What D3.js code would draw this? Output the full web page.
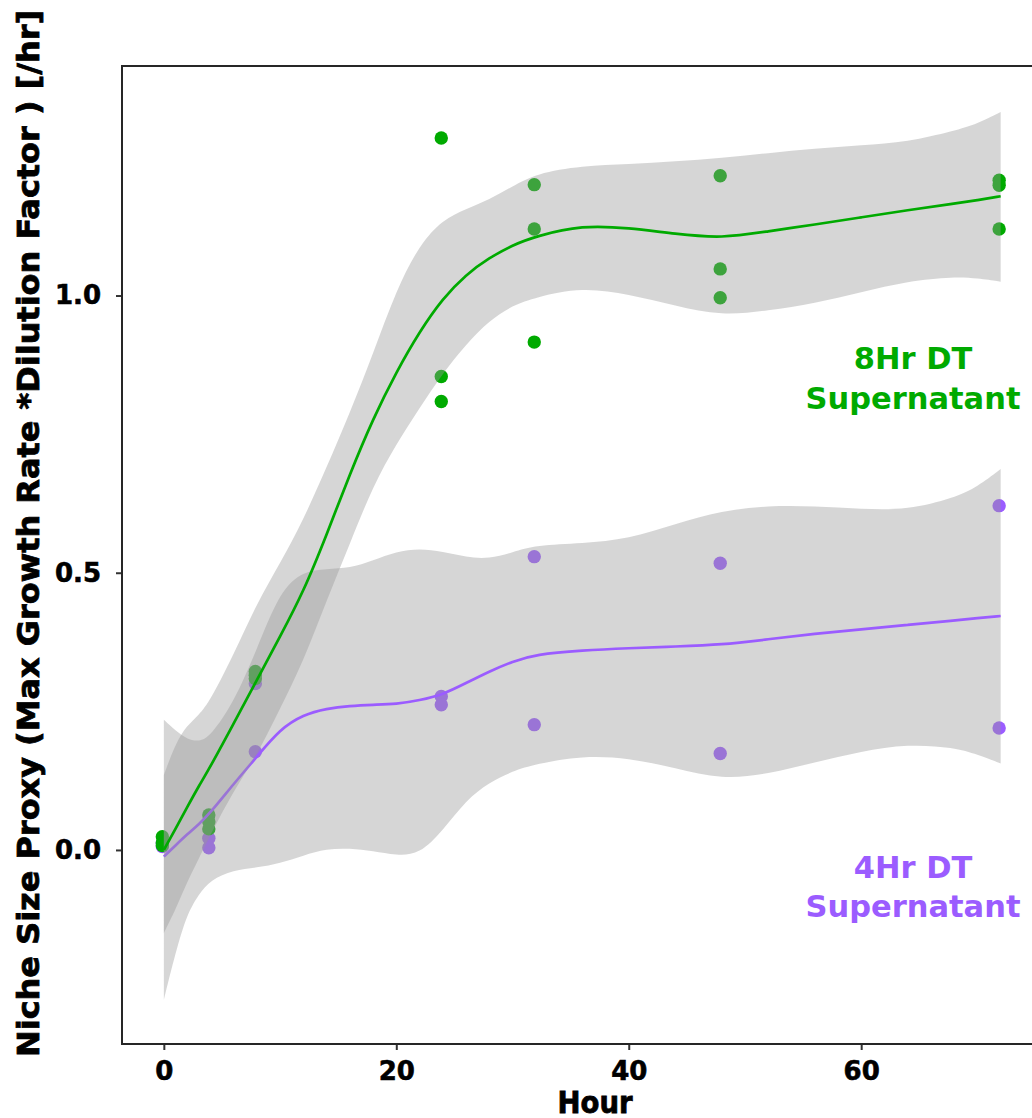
<!DOCTYPE html>
<html>
<head>
<meta charset="utf-8">
<script src="https://cdn.jsdelivr.net/npm/d3@7"></script>
<style>
  html, body { margin: 0; padding: 0; background: #ffffff; }
  svg { display: block; }
  text { font-family: "DejaVu Sans", Verdana, sans-serif; font-weight: bold; }
</style>
</head>
<body>
<svg id="chart" width="1032" height="1118"></svg>
<script>
// ---- Observed replicate values (hour, growth-rate proxy) ----
const hours8 = [0, 0, 0, 4, 4, 4, 8, 8, 8, 24, 24, 24, 32, 32, 32, 48, 48, 48, 72, 72, 72];
const values8 = [0.024, 0.013, 0.008, 0.063, 0.051, 0.038, 0.322, 0.315, 0.309,
                 1.284, 0.854, 0.809, 1.200, 1.120, 0.916, 1.216, 1.048, 0.996,
                 1.208, 1.199, 1.120];

const hours4 = [0, 0, 4, 4, 8, 8, 24, 24, 32, 32, 48, 48, 72, 72];
const values4 = [0.012, 0.006, 0.021, 0.004, 0.300, 0.177, 0.277, 0.262,
                 0.529, 0.226, 0.517, 0.174, 0.621, 0.220];

// ---- Smoothed fit with confidence band, sampled along the hour axis ----
const fitHours = [0, 1, 2, 3, 4, 6, 8, 10, 12, 14, 16, 18, 20, 22, 24, 26, 28, 30,
                  32, 36, 40, 44, 48, 52, 56, 60, 64, 68, 70, 72];

const fit8 = [0.000, 0.038, 0.077, 0.115, 0.150, 0.228, 0.306, 0.385, 0.465, 0.568,
              0.678, 0.778, 0.862, 0.935, 0.995, 1.038, 1.068, 1.091, 1.107, 1.127,
              1.122, 1.111, 1.103, 1.116, 1.128, 1.141, 1.154, 1.166, 1.172, 1.179];
const upper8 = [0.135, 0.192, 0.225, 0.243, 0.270, 0.352, 0.445, 0.517, 0.595, 0.690,
                0.788, 0.895, 1.010, 1.092, 1.137, 1.156, 1.173, 1.197, 1.220, 1.234,
                1.237, 1.242, 1.248, 1.257, 1.265, 1.271, 1.277, 1.297, 1.310, 1.331];
const lower8 = [-0.150, -0.108, -0.058, -0.016, 0.027, 0.107, 0.170, 0.255, 0.340, 0.450,
                0.552, 0.657, 0.732, 0.797, 0.860, 0.912, 0.955, 0.982, 0.997, 1.015,
                1.002, 0.982, 0.963, 0.973, 0.986, 1.006, 1.026, 1.034, 1.031, 1.025];

const fit4 = [-0.012, 0.008, 0.028, 0.046, 0.067, 0.119, 0.168, 0.218, 0.244, 0.255,
              0.260, 0.262, 0.263, 0.270, 0.280, 0.301, 0.322, 0.340, 0.353, 0.360,
              0.364, 0.367, 0.370, 0.380, 0.390, 0.398, 0.406, 0.414, 0.418, 0.422];
const upper4 = [0.235, 0.215, 0.200, 0.195, 0.205, 0.265, 0.362, 0.468, 0.503, 0.507,
                0.508, 0.522, 0.538, 0.544, 0.538, 0.528, 0.525, 0.537, 0.550, 0.553,
                0.561, 0.588, 0.612, 0.621, 0.620, 0.615, 0.613, 0.635, 0.655, 0.687];
const lower4 = [-0.270, -0.185, -0.115, -0.080, -0.054, -0.036, -0.032, -0.024, -0.010, 0.002,
                0.003, -0.002, -0.010, -0.008, 0.035, 0.090, 0.122, 0.142, 0.155, 0.170,
                0.166, 0.148, 0.127, 0.137, 0.158, 0.178, 0.191, 0.185, 0.172, 0.156];

// ---- Axis ticks and labels ----
const xTicks = [0, 20, 40, 60];
const yTicks = [0.0, 0.5, 1.0];
const xTitle = "Hour";
const yTitle = "Niche Size Proxy (Max Growth Rate *Dilution Factor ) [/hr]";

const series = [
  { name: "4Hr DT", color: "#9b5cff", hours: hours4, values: values4,
    fit: fit4, lower: lower4, upper: upper4,
    label: ["4Hr DT", "Supernatant"], labelY: [878, 917] },
  { name: "8Hr DT", color: "#00aa00", hours: hours8, values: values8,
    fit: fit8, lower: lower8, upper: upper8,
    label: ["8Hr DT", "Supernatant"], labelY: [368.5, 408.5] }
];

// ---- Layout ----
const panel = { left: 122, top: 66, right: 1042.5, bottom: 1044 };

const x = d3.scaleLinear().domain([-3.6, 75.6]).range([panel.left, panel.right]);
const y = d3.scaleLinear().domain([-0.35, 1.414]).range([panel.bottom, panel.top]);

const svg = d3.select("#chart");

svg.append("defs").append("clipPath").attr("id", "panel-clip")
  .append("rect")
  .attr("x", panel.left).attr("y", panel.top)
  .attr("width", panel.right - panel.left).attr("height", panel.bottom - panel.top);

const plot = svg.append("g").attr("clip-path", "url(#panel-clip)");

// points first, so the confidence bands tint them
series.forEach(s => {
  plot.append("g").selectAll("circle")
    .data(s.hours.map((h, i) => ({ h, v: s.values[i] })))
    .join("circle")
    .attr("cx", d => x(d.h) - 1.5)
    .attr("cy", d => y(d.v))
    .attr("r", 6.7)
    .attr("fill", s.color);
});

const band = d3.area()
  .x(d => x(d.h))
  .y0(d => y(d.lo))
  .y1(d => y(d.hi))
  .curve(d3.curveBasis);

const trend = d3.line()
  .x(d => x(d.h))
  .y(d => y(d.f))
  .curve(d3.curveBasis);

// each group: grey band, then its fitted line
series.forEach(s => {
  const rows = fitHours.map((h, i) => ({ h, f: s.fit[i], lo: s.lower[i], hi: s.upper[i] }));
  plot.append("path")
    .datum(rows)
    .attr("d", band)
    .attr("fill", "#999999")
    .attr("fill-opacity", 0.4);
  plot.append("path")
    .datum(rows)
    .attr("d", trend)
    .attr("fill", "none")
    .attr("stroke", s.color)
    .attr("stroke-width", 2.7);
});

// in-panel group labels
series.forEach(s => {
  s.label.forEach((t, i) => {
    svg.append("text")
      .attr("x", 913)
      .attr("y", s.labelY[i])
      .attr("text-anchor", "middle")
      .attr("fill", s.color)
      .style("font-size", "30.5px")
      .text(t);
  });
});

// ---- Axes ----
const xAxis = d3.axisBottom(x).tickValues(xTicks).tickFormat(d3.format("d"))
  .tickSize(6).tickSizeOuter(0).tickPadding(12);
const yAxis = d3.axisLeft(y).tickValues(yTicks).tickFormat(d3.format(".1f"))
  .tickSize(6).tickSizeOuter(0).tickPadding(15);

const gx = svg.append("g").attr("transform", `translate(0,${panel.bottom})`).call(xAxis);
const gy = svg.append("g").attr("transform", `translate(${panel.left},0)`).call(yAxis);

[gx, gy].forEach(g => {
  g.select(".domain").remove();
  g.selectAll(".tick line").attr("stroke", "#333333").attr("stroke-width", 2);
  g.selectAll(".tick text")
    .attr("fill", "#000000")
    .attr("stroke", "#000000")
    .attr("stroke-width", 0.6)
    .style("font-family", "'DejaVu Sans', Verdana, sans-serif")
    .style("font-weight", "bold")
    .style("font-size", "26px");
});

// panel border
svg.append("rect")
  .attr("x", panel.left).attr("y", panel.top)
  .attr("width", panel.right - panel.left).attr("height", panel.bottom - panel.top)
  .attr("fill", "none")
  .attr("stroke", "#262626")
  .attr("stroke-width", 2);

// ---- Axis titles (condensed heavy bold) ----
svg.append("text")
  .attr("x", 595)
  .attr("y", 1113)
  .attr("text-anchor", "middle")
  .attr("fill", "#000000")
  .attr("stroke", "#000000")
  .attr("stroke-width", 0.8)
  .attr("textLength", 75)
  .attr("lengthAdjust", "spacingAndGlyphs")
  .style("font-size", "30px")
  .text(xTitle);

svg.append("text")
  .attr("transform", "translate(39,533.5) rotate(-90)")
  .attr("text-anchor", "middle")
  .attr("fill", "#000000")
  .attr("stroke", "#000000")
  .attr("stroke-width", 0.8)
  .attr("textLength", 1047)
  .attr("lengthAdjust", "spacingAndGlyphs")
  .style("font-size", "31px")
  .text(yTitle);
</script>
</body>
</html>
